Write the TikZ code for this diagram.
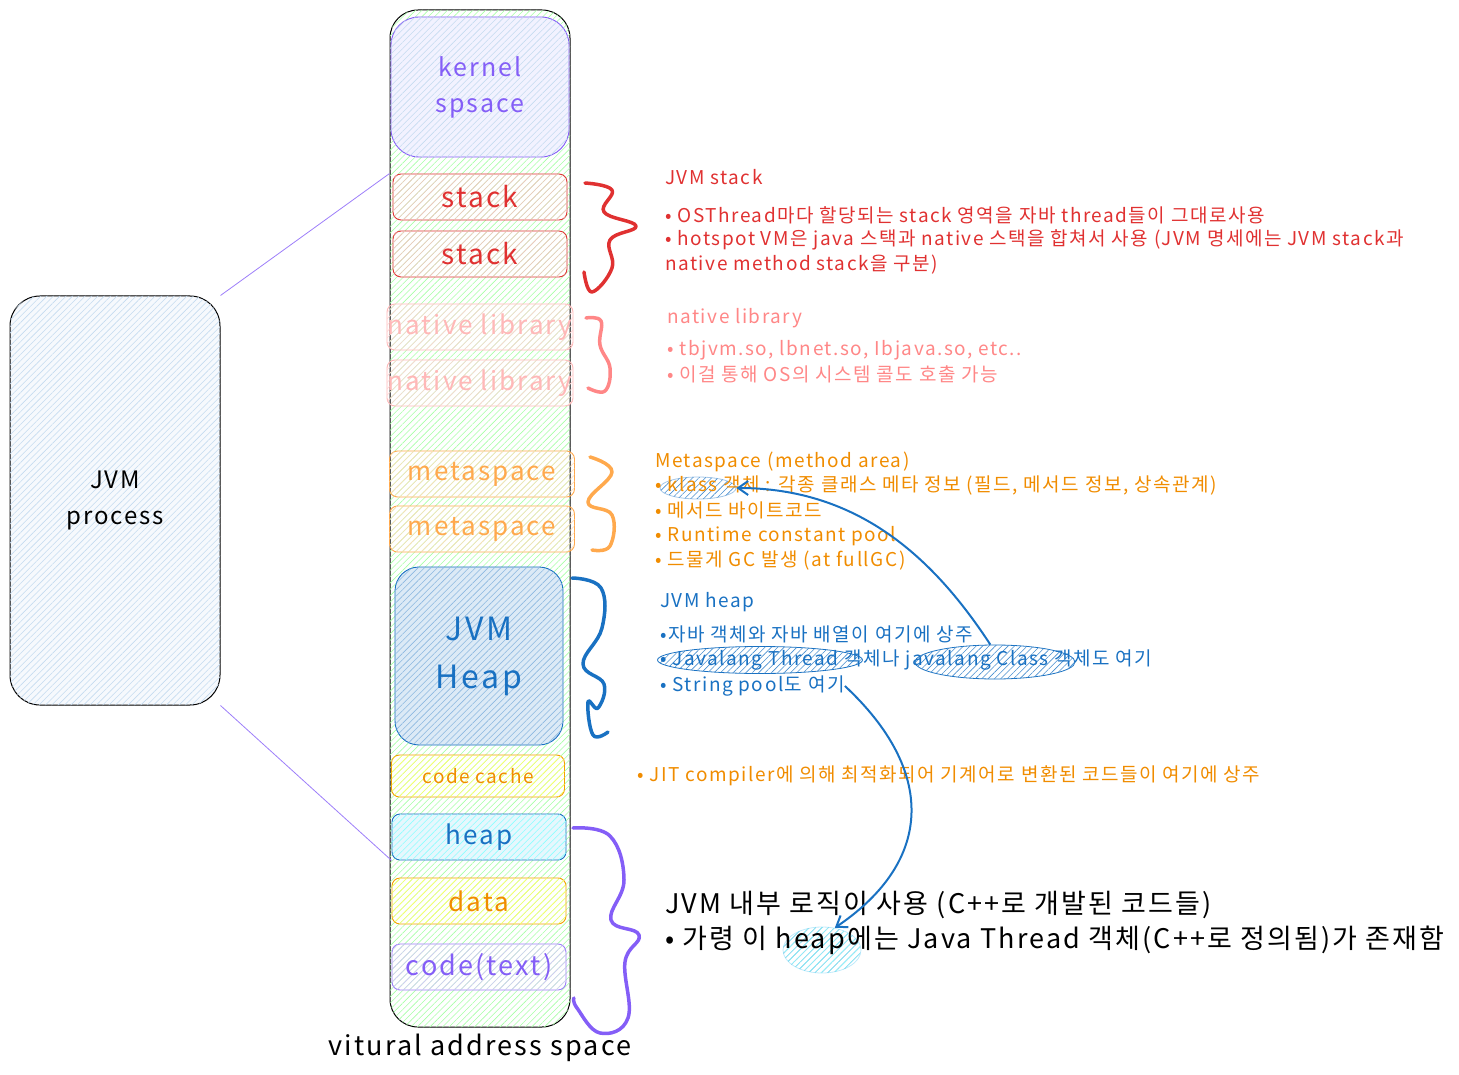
\documentclass[tikz,border=0pt]{standalone}
\usepackage{fontspec}
\setmainfont{Noto Sans CJK KR}[LetterSpace=8]
\usetikzlibrary{positioning,arrows.meta,shapes,patterns.meta}
\definecolor{exred}{HTML}{E03131}
\definecolor{expink}{HTML}{FF8787}
\definecolor{exlpink}{HTML}{FFB8B8}
\definecolor{exorange}{HTML}{F08C00}
\definecolor{exlorange}{HTML}{FFA94D}
\definecolor{exblue}{HTML}{1971C2}
\definecolor{expurple}{HTML}{845EF7}
\definecolor{exyellow}{HTML}{F59F00}

\begin{document}
\begin{tikzpicture}[
  x=1pt, y=-1pt,
  seg/.style={draw, rounded corners=8pt, line width=0.9pt, inner sep=0pt, minimum width=174pt, minimum height=46pt},
  hatch/.style={postaction={pattern color=#1, pattern={Lines[angle=45,distance=4.5pt,line width=0.6pt]}}},
  big/.style={font=\fontsize{26}{30}\selectfont},
  note/.style={anchor=west, inner sep=0pt, font=\fontsize{19}{22}\selectfont},
  brace/.style={line width=3.5pt, line cap=round, line join=round},
  link/.style={draw=expurple!80, line width=0.8pt},
  hilite/.style={ellipse, draw=exblue, line width=0.8pt, inner sep=0pt, hatch=exblue!80},
  ptr/.style={draw=exblue, line width=2pt, -{Straight Barb[length=10pt,width=14pt]}}
]
  \useasboundingbox (0,0) rectangle (1459,1075);

  % Virtual address space column
  \node[draw, line width=1pt, rounded corners=28pt, minimum width=180pt, minimum height=1017pt, hatch=green!35] (vas) at (480,518.5) {};
  \node[big, font=\fontsize{27}{30}\selectfont, below=3pt of vas] (vaslbl) {vitural address space};

  \node[seg, draw=expurple, rounded corners=28pt, fill=blue!5, hatch=exblue!25, minimum width=178pt, minimum height=140pt, text=expurple, align=center, big, font=\fontsize{25}{36}\selectfont] (kernel) at (480,87) {kernel\\spsace};
  \node[seg, draw=exred, hatch=exred!30, text=exred, big, font=\fontsize{28}{30}\selectfont] (stackA) at (480,197) {stack};
  \node[seg, draw=exred, hatch=exred!30, text=exred, big, font=\fontsize{28}{30}\selectfont] (stackB) at (480,254) {stack};
  \node[seg, draw=exlpink, minimum width=186pt, hatch=exlpink!60, text=exlpink, big] (nativeA) at (480,327) {native library};
  \node[seg, draw=exlpink, minimum width=186pt, hatch=exlpink!60, text=exlpink, big] (nativeB) at (480,383) {native library};
  \node[seg, draw=exlorange, minimum width=185pt, hatch=exlorange!40, text=exlorange, big] (metaA) at (482,474) {metaspace};
  \node[seg, draw=exlorange, minimum width=185pt, hatch=exlorange!40, text=exlorange, big] (metaB) at (482,529) {metaspace};
  \node[seg, draw=exblue, rounded corners=24pt, fill=exblue!15, hatch=exblue!50, minimum width=168pt, minimum height=178pt, text=exblue, align=center, font=\fontsize{32}{48}\selectfont] (jvmheap) at (479,656) {JVM\\Heap};
  \node[seg, draw=exyellow, minimum width=173pt, minimum height=42pt, hatch=yellow!60, text=exorange, font=\fontsize{19}{22}\selectfont] (codecache) at (478,776) {code cache};
  \node[seg, draw=exblue, fill=cyan!10, hatch=cyan!45, text=exblue, big] (heap) at (479,837) {heap};
  \node[seg, draw=exyellow, hatch=yellow!60, text=exorange, big] (data) at (479,901) {data};
  \node[seg, draw=expurple!80, hatch=expurple!35, text=expurple, big, font=\fontsize{27}{30}\selectfont] (code) at (479,967) {code(text)};

  % JVM process box
  \node[draw, line width=1pt, rounded corners=30pt, minimum width=210pt, minimum height=409pt, fill=exblue!4, hatch=exblue!25, align=center, font=\fontsize{24}{36}\selectfont] (proc) at (115,500.5) {JVM\\process};
  \draw[link] (proc.north east) -- (vas.west |- stackA.north);
  \draw[link] (proc.south east) -- (heap.south west);

  % Braces
  \draw[brace, exred] plot[smooth, tension=0.7] coordinates {(585,183) (612,190) (604,212) (636,226) (610,240) (612,268) (592,292) (584,272)};
  \draw[brace, expink] plot[smooth, tension=0.7] coordinates {(586,318) (601,321) (600,345) (610,368) (605,391) (588,388)};
  \draw[brace, exlorange] plot[smooth, tension=0.7] coordinates {(590,457) (612,472) (588,502) (612,515) (610,546) (592,550)};
  \draw[brace, exblue] plot[smooth, tension=0.7] coordinates {(572,578) (601,588) (602,628) (583,664) (604,684) (598,708) (588,702) (593,735) (608,732)};
  \draw[brace, expurple] plot[smooth, tension=0.7] coordinates {(573,828) (610,836) (624,880) (611,920) (639,935) (625,962) (628,1018) (600,1033) (577,1008) (574,998)};

  % Highlight marks
  \node[hilite, draw=exblue!40, minimum width=76pt, minimum height=22pt] (klassmark) at (698,488) {};
  \node[hilite, minimum width=205pt, minimum height=27pt] (thrmark) at (760,660) {};
  \node[hilite, minimum width=160pt, minimum height=34pt] (clsmark) at (995,662) {};
  \node[hilite, draw=cyan!25, hatch=cyan!40, minimum width=78pt, minimum height=46pt] (heapmark) at (822,950) {};

  % JVM stack notes
  \node[note, text=exred] (stk0) at (665,177) {JVM stack};
  \node[note, text=exred] (stk1) at (665,215) {• OSThread마다 할당되는 stack 영역을 자바 thread들이 그대로사용};
  \node[note, text=exred] (stk2) at (665,240) {• hotspot VM은 java 스택과 native 스택을 합쳐서 사용 (JVM 명세에는 JVM stack과};
  \node[note, text=exred] (stk3) at (665,265) {native method stack을 구분)};

  % native library notes
  \node[note, text=expink] (nat0) at (667,318) {native library};
  \node[note, text=expink] (nat1) at (667,350) {• tbjvm.so, lbnet.so, Ibjava.so, etc..};
  \node[note, text=expink] (nat2) at (667,374) {• 이걸 통해 OS의 시스템 콜도 호출 가능};

  % metaspace notes
  \node[note, text=exorange] (met0) at (655,462) {Metaspace (method area)};
  \node[note, text=exorange] (met1) at (655,486) {• klass 객체 : 각종 클래스 메타 정보 (필드, 메서드 정보, 상속관계)};
  \node[note, text=exorange] (met2) at (655,510) {• 메서드 바이트코드};
  \node[note, text=exorange] (met3) at (655,536) {• Runtime constant pool};
  \node[note, text=exorange] (met4) at (655,561) {• 드물게 GC 발생 (at fullGC)};

  % heap notes
  \node[note, text=exblue] (hp0) at (660,602) {JVM heap};
  \node[note, text=exblue] (hp1) at (660,634) {•자바 객체와 자바 배열이 여기에 상주};
  \node[note, text=exblue] (hp2) at (660,660) {• Javalang Thread 객체나 javalang Class 객체도 여기};
  \node[note, text=exblue] (strpool) at (660,686) {• String pool도 여기};

  \node[note, text=exorange] (jit) at (637,776) {• JIT compiler에 의해 최적화되어 기계어로 변환된 코드들이 여기에 상주};

  % native heap notes
  \node[note, font=\fontsize{27}{30}\selectfont] (cpp0) at (665,905) {JVM 내부 로직이 사용 (C++로 개발된 코드들)};
  \node[note, font=\fontsize{27}{30}\selectfont] (cpp1) at (665,940) {• 가령 이 heap에는 Java Thread 객체(C++로 정의됨)가 존재함};

  % Pointers
  \draw[ptr] (clsmark.105) .. controls (935,560) and (860,488) .. (klassmark.east);
  \draw[ptr] (strpool.east) .. controls (935,770) and (935,860) .. (heapmark.60);
\end{tikzpicture}
\end{document}
